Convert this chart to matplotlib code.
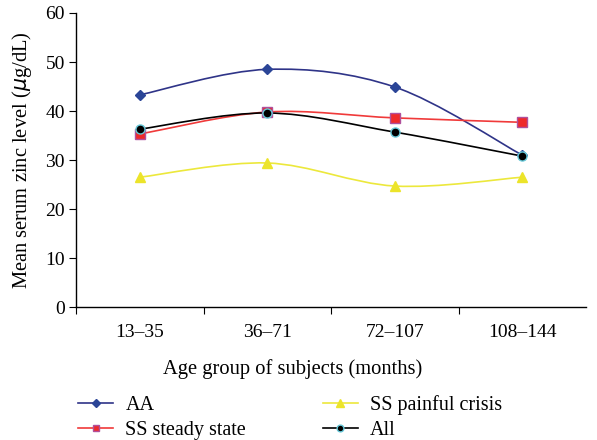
import matplotlib.pyplot as plt
import numpy as np
from matplotlib.path import Path
from matplotlib.patches import PathPatch

plt.rcParams['font.family'] = ['Liberation Serif', 'DejaVu Serif']

age_groups = ['13\u201335', '36\u201371', '72\u2013107', '108\u2013144']
aa = [43.3, 48.5, 44.9, 31.0]
ss_steady = [35.3, 39.8, 38.6, 37.7]
ss_painful = [26.5, 29.4, 24.7, 26.5]
all_subjects = [36.3, 39.6, 35.7, 30.8]


def smooth_path(xs, ys):
    # excel-ish smoothed line: catmull-rom as cubic bezier segments
    pts = np.column_stack([xs, ys])
    verts = [pts[0]]
    codes = [Path.MOVETO]
    n = len(pts)
    for i in range(n - 1):
        p0 = pts[max(i - 1, 0)]
        p1 = pts[i]
        p2 = pts[i + 1]
        p3 = pts[min(i + 2, n - 1)]
        c1 = p1 + (p2 - p0) / 6.0
        c2 = p2 - (p3 - p1) / 6.0
        verts += [c1, c2, p2]
        codes += [Path.CURVE4] * 3
    return Path(verts, codes)


fig = plt.figure(figsize=(5.97, 4.40), dpi=100)
ax = fig.add_axes([0.1273, 0.302, 0.8543, 0.6685])

x = np.arange(len(age_groups)) + 0.5

series = [
    ('AA', aa, '#2f3488', 'D', '#2b4597', '#2b4597', 5.5),
    ('SS steady state', ss_steady, '#f03a3a', 's', '#ee2a2a', '#b0509c', 6.5),
    ('SS painful crisis', ss_painful, '#ece83c', '^', '#ece42a', '#ece42a', 7.5),
    ('All', all_subjects, '#000000', 'o', '#000000', '#66c8d8', 6.5),
]

handles = []
for label, vals, lc, mk, mfc, mec, ms in series:
    ax.add_patch(PathPatch(smooth_path(x, vals), facecolor='none',
                           edgecolor=lc, lw=1.2, zorder=2))
    ax.plot(x, vals, ls='none', marker=mk, markersize=ms, markerfacecolor=mfc,
            markeredgecolor=mec, markeredgewidth=1.0, zorder=3)
    h, = ax.plot([], [], color=lc, lw=1.2, marker=mk, markersize=ms * 0.75,
                 markerfacecolor=mfc, markeredgecolor=mec, label=label)
    handles.append(h)

ax.set_xlim(0, 4)
ax.set_ylim(0, 60)
ax.set_yticks(range(0, 61, 10))
ax.set_xticks([0, 1, 2, 3])
ax.set_xticklabels([])
ax.set_xticks(x, minor=True)
ax.set_xticklabels(age_groups, minor=True)
ax.tick_params(axis='x', which='minor', length=0, pad=12, labelsize=14)
ax.tick_params(axis='x', which='major', length=5, direction='out')
ax.tick_params(axis='y', length=5, direction='out', labelsize=14, pad=3)

for side in ['top', 'right']:
    ax.spines[side].set_visible(False)
for side in ['left', 'bottom']:
    ax.spines[side].set_linewidth(1.0)

ax.set_xlabel('Age group of subjects (months)', fontsize=14.8, labelpad=8)
ax.xaxis.set_label_coords(0.425, -0.178)
ax.set_ylabel('Mean serum zinc level ($\\mu$g/dL)', fontsize=14.8, labelpad=8)

fig.legend(handles=handles, loc='upper left', bbox_to_anchor=(0.1307, 0.103),
           ncol=2, frameon=False, fontsize=14.5, handlelength=1.75,
           borderpad=0, borderaxespad=0, columnspacing=3.8,
           labelspacing=0.32, handletextpad=0.6)

fig.savefig('out.png', dpi=100)
